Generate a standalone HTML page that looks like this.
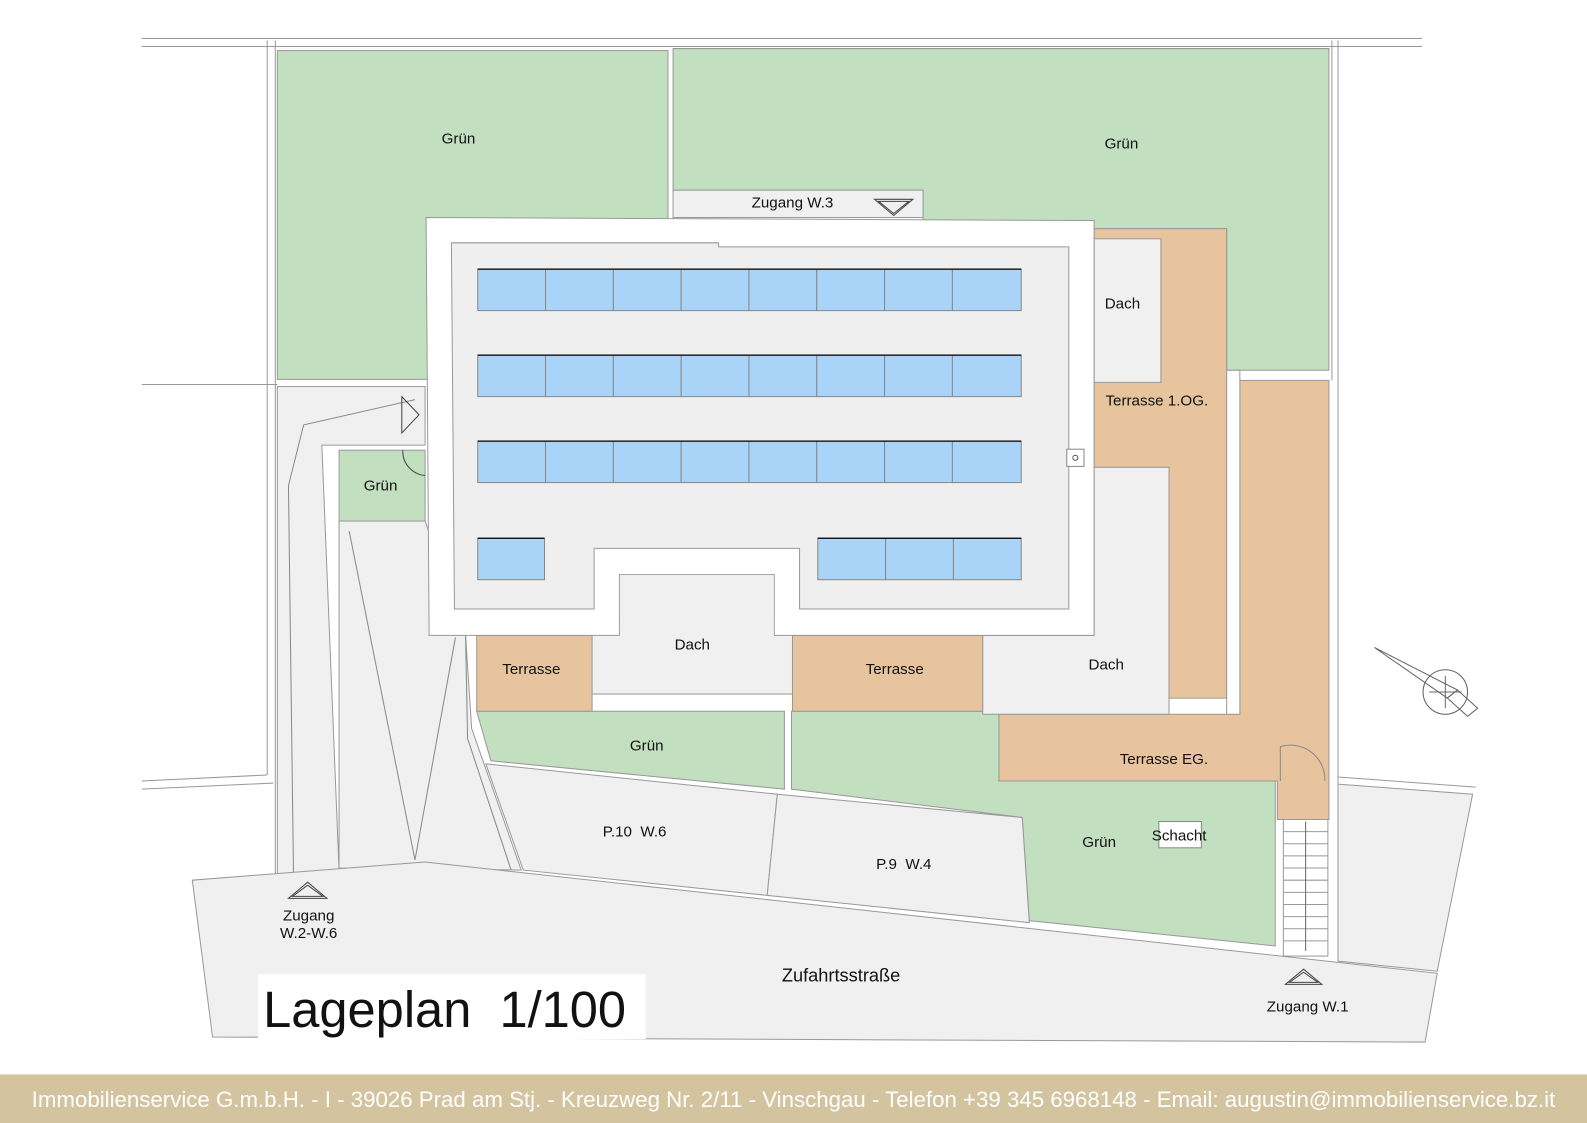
<!DOCTYPE html>
<html><head><meta charset="utf-8"><style>
html,body{margin:0;padding:0;background:#fff;}
svg{display:block;}
text{font-family:"Liberation Sans",sans-serif;fill:#111;white-space:pre;}
</style></head><body>
<svg width="1587" height="1123" viewBox="0 0 1568 1110" preserveAspectRatio="none" xmlns="http://www.w3.org/2000/svg" xml:space="preserve">
<rect width="1568" height="1110" fill="#fff"/>
<g stroke="#999" stroke-width="1" fill="none">
<polyline points="140,38 1405,38"/><polyline points="140,46 1405,46"/>
<polyline points="140,380 274,380"/><polyline points="140,772 264,766"/><polyline points="140,780 270,774"/>
<line x1="264" y1="40" x2="264" y2="766"/><line x1="272" y1="40" x2="272" y2="865"/>
<line x1="1322" y1="40" x2="1322" y2="950"/><line x1="1316" y1="40" x2="1316" y2="376"/>
<polyline points="1322,768 1458,778"/>
</g>
<polygon points="274,382 420,382 420,440 318,440 335,860 274,865" fill="#f0f0f0" stroke="#999"/>
<polygon points="335,515 420,515 460,628 466,720 515,860 335,858" fill="#f0f0f0" stroke="#999"/>
<g stroke="#888" fill="none" stroke-width="1">
<polyline points="290,865 285,480 300,420 410,395"/>
<polyline points="345,525 410,850 450,630"/>
<polyline points="460,628 462,730 505,860"/>
</g>
<g fill="#c2dfbf" stroke="#999">
<rect x="274" y="50" width="386" height="325"/>
<polygon points="665,48 1313,48 1313,366 1212,366 1212,226 912,226 912,188 665,188"/>
<rect x="335" y="445" width="85" height="70"/>
<polygon points="471,703 775,703 775,780 485,752"/>
<polygon points="782,703 987,703 987,772 1260,772 1260,935 1017,910 1010,808 782,780"/>
</g>
<rect x="665" y="188" width="247" height="27" fill="#f0f0f0" stroke="#999"/>
<g fill="#e7c49d" stroke="#999">
<polygon points="1081,226 1212,226 1212,690 1155,690 1155,462 1081,462"/>
<polygon points="1225,376 1313,376 1313,810 1262,810 1262,772 987,772 987,706 1225,706"/>
<rect x="471" y="628" width="114" height="75"/>
<rect x="783" y="628" width="188" height="75"/>
</g>
<g fill="#f0f0f0" stroke="#999">
<rect x="1081" y="236" width="66" height="142"/>
<polygon points="971,628 1081,628 1081,462 1155,462 1155,706 971,706"/>
<rect x="585" y="612" width="198" height="74"/>
<polygon points="480,755 768,785 758,885 517,860"/>
<polygon points="768,785 1010,808 1017,912 758,885"/>
<polygon points="190,870 420,852 1420,962 1408,1030 210,1025"/>
<polygon points="1322,775 1455,785 1420,960 1322,950"/>
</g>
<rect x="1212" y="366" width="13" height="340" fill="#fff" stroke="#999"/>
<rect x="1268" y="810" width="44" height="135" fill="#fff" stroke="#999"/>
<g stroke="#999">
<line x1="1268" y1="822" x2="1312" y2="822"/><line x1="1268" y1="834" x2="1312" y2="834"/><line x1="1268" y1="846" x2="1312" y2="846"/><line x1="1268" y1="858" x2="1312" y2="858"/><line x1="1268" y1="870" x2="1312" y2="870"/><line x1="1268" y1="882" x2="1312" y2="882"/><line x1="1268" y1="894" x2="1312" y2="894"/><line x1="1268" y1="906" x2="1312" y2="906"/><line x1="1268" y1="918" x2="1312" y2="918"/><line x1="1268" y1="930" x2="1312" y2="930"/>
<line x1="1290" y1="812" x2="1290" y2="940" stroke="#666"/>
</g>
<path d="M1265,772 L1265,738 A34,34 0 0 1 1309,772" fill="none" stroke="#888"/>
<rect x="1145" y="812" width="42" height="26" fill="#fff" stroke="#888"/>
<polygon points="421,215 1081,218 1081,628 765,628 765,568 612,568 612,628 424,628" fill="#fff" stroke="#999"/>
<rect x="612.5" y="568.5" width="152" height="60" fill="#f0f0f0"/>
<polygon points="446,240 710,240 710,244 1056,244 1056,602 790,602 790,542 587,542 587,602 449,602" fill="#efefef" stroke="#999"/>
<rect x="1054" y="444" width="17" height="17" fill="#fff" stroke="#888"/>
<circle cx="1062.5" cy="452.5" r="2.5" fill="none" stroke="#555"/>
<g fill="#a9d4f8" stroke="#888">
<g id="row"><rect x="472" y="266" width="67" height="41"/><rect x="539" y="266" width="67" height="41"/><rect x="606" y="266" width="67" height="41"/><rect x="673" y="266" width="67" height="41"/><rect x="740" y="266" width="67" height="41"/><rect x="807" y="266" width="67" height="41"/><rect x="874" y="266" width="67" height="41"/><rect x="941" y="266" width="68" height="41"/></g>
<use href="#row" y="85"/><use href="#row" y="170"/>
<rect x="472" y="532" width="66" height="41"/><rect x="808" y="532" width="67" height="41"/><rect x="875" y="532" width="67" height="41"/><rect x="942" y="532" width="67" height="41"/>
</g>
<g stroke="#000" stroke-width="1.3">
<line x1="472" y1="266" x2="1009" y2="266"/><line x1="472" y1="351" x2="1009" y2="351"/><line x1="472" y1="436" x2="1009" y2="436"/><line x1="472" y1="532" x2="538" y2="532"/><line x1="808" y1="532" x2="1009" y2="532"/>
</g>
<g fill="none" stroke="#444">
<polygon points="864,197 902,197 883,213"/><polygon points="868,199 898,199 883,211"/>
<polygon points="285,888 323,888 304,872"/><polygon points="289,886 319,886 304,875"/>
<polygon points="1270,973 1306,973 1288,958"/><polygon points="1274,971 1302,971 1288,961"/>
<polygon points="397,392 397,428 414,410"/>
<path d="M398,445 A24,24 0 0 0 420,470" />
</g>
<g fill="none" stroke="#666">
<circle cx="1428" cy="684" r="22"/>
<polygon points="1358,640 1440,682 1430,690"/>
<polygon points="1440,682 1460,700 1450,708 1430,690"/>
<line x1="1412" y1="684" x2="1444" y2="684"/><line x1="1428" y1="668" x2="1428" y2="700"/>
</g>
<g font-size="15" text-anchor="middle">
<text x="453" y="142">Grün</text>
<text x="1108" y="147">Grün</text>
<text x="783" y="205">Zugang W.3</text>
<text x="1109" y="305">Dach</text>
<text x="1143" y="401">Terrasse 1.OG.</text>
<text x="376" y="485">Grün</text>
<text x="684" y="642">Dach</text>
<text x="525" y="666">Terrasse</text>
<text x="884" y="666">Terrasse</text>
<text x="1093" y="662">Dach</text>
<text x="639" y="742">Grün</text>
<text x="1150" y="755">Terrasse EG.</text>
<text x="627" y="827">P.10  W.6</text>
<text x="893" y="859">P.9  W.4</text>
<text x="1086" y="837">Grün</text>
<text x="1165" y="831">Schacht</text>
<text x="305" y="910">Zugang</text>
<text x="305" y="927">W.2-W.6</text>
<text x="831" y="970" font-size="18">Zufahrtsstraße</text>
<text x="1292" y="1000">Zugang W.1</text>
</g>
<rect x="255" y="963" width="383" height="64" fill="#fff"/>
<text x="260" y="1015" font-size="50">Lageplan  1/100</text>
<rect x="0" y="1062" width="1568" height="48" fill="#d3c39f"/>
<text x="784" y="1094" font-size="22" text-anchor="middle" style="fill:#fff">Immobilienservice G.m.b.H. - I - 39026 Prad am Stj. - Kreuzweg Nr. 2/11 - Vinschgau - Telefon +39 345 6968148 - Email: augustin@immobilienservice.bz.it</text>
</svg>
</body></html>
